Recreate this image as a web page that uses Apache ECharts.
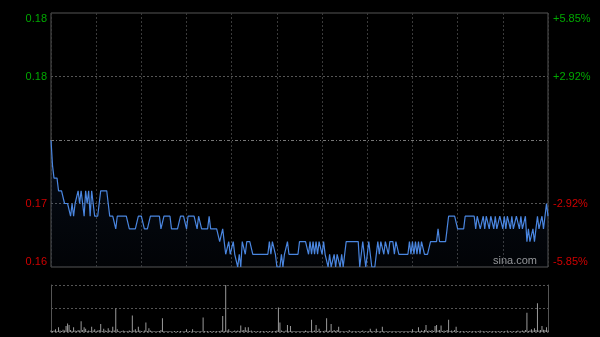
<!DOCTYPE html>
<html><head><meta charset="utf-8">
<script src="https://cdn.jsdelivr.net/npm/echarts@6/dist/echarts.min.js"></script>
<style>html,body{margin:0;padding:0;background:#000}#c{width:600px;height:337px}</style>
</head><body><div id="c"></div>
<script>
const prevClose = 0.171;
const priceTicks = [0.161, 0.166, 0.171, 0.176, 0.181];
const leftLabels = ['0.16', '0.17', '', '0.18', '0.18'];
const rightLabels = ['-5.85%', '-2.92%', '', '+2.92%', '+5.85%'];

const prices = [
.171,.169,.168,.168,.168,.167,.167,.167,.167,.166,
.166,.166,.166,.165,.166,.165,.166,.166,.167,.166,
.167,.166,.165,.167,.166,.167,.165,.167,.166,.165,
.165,.165,.166,.167,.167,.167,.167,.167,.166,.165,
.165,.165,.165,.164,.165,.165,.165,.165,.165,.165,
.165,.165,.164,.164,.164,.164,.164,.164,.165,.165,
.165,.165,.164,.164,.164,.164,.165,.165,.165,.165,
.165,.165,.165,.164,.164,.165,.165,.165,.165,.165,
.164,.164,.164,.164,.164,.164,.165,.165,.165,.165,
.164,.165,.165,.165,.165,.165,.165,.164,.165,.165,
.164,.164,.164,.164,.164,.165,.164,.164,.164,.164,
.164,.164,.163,.163,.164,.163,.162,.162,.163,.162,
.162,.163,.162,.162,.161,.162,.161,.163,.163,.162,
.163,.163,.163,.163,.162,.162,.162,.162,.162,.162,
.162,.162,.162,.162,.162,.163,.162,.163,.163,.162,
.161,.161,.161,.162,.161,.162,.162,.163,.162,.162,
.162,.162,.162,.162,.162,.163,.163,.163,.163,.163,
.163,.162,.163,.162,.163,.162,.163,.162,.163,.163,
.162,.163,.162,.162,.161,.162,.161,.161,.162,.161,
.162,.162,.161,.162,.161,.162,.163,.163,.163,.163,
.163,.163,.163,.163,.163,.161,.162,.163,.163,.161,
.162,.163,.162,.161,.161,.161,.162,.163,.162,.163,
.163,.162,.163,.163,.162,.163,.163,.163,.162,.163,
.163,.162,.162,.162,.162,.162,.162,.162,.163,.162,
.163,.162,.163,.162,.163,.162,.163,.163,.162,.162,
.162,.162,.163,.163,.163,.163,.163,.164,.163,.163,
.163,.163,.163,.164,.165,.165,.165,.165,.165,.165,
.164,.164,.164,.164,.164,.165,.165,.165,.165,.165,
.165,.165,.164,.165,.165,.164,.164,.165,.164,.165,
.165,.164,.165,.165,.164,.165,.164,.164,.165,.165,
.164,.165,.164,.165,.165,.164,.165,.164,.164,.165,
.165,.164,.165,.164,.164,.165,.163,.164,.163,.163,
.164,.163,.164,.165,.164,.164,.165,.164,.165,.166,
.165
];

const volumes = [
3,2,3,6,2,10,3,2,5,3,
13,18,15,4,2,10,3,2,4,3,
23,4,10,7,2,3,2,11,3,6,
2,3,4,17,2,7,3,2,8,3,
2,11,3,50,6,2,1,2,3,2,
1,2,3,2,35,3,6,2,11,3,
2,1,3,20,2,8,3,2,1,2,
1,2,2,4,29,2,1,2,1,2,
1,1,2,1,2,1,2,1,1,2,
6,1,2,1,6,2,1,2,1,2,
1,31,2,1,2,1,2,1,2,1,
2,1,2,3,34,2,100,3,6,2,
1,2,3,2,3,2,14,3,4,10,
3,10,2,3,1,2,1,2,1,2,
1,2,1,2,1,2,1,2,1,2,
3,52,20,3,2,1,3,15,2,13,
2,1,2,1,2,1,2,1,2,3,
2,1,2,26,2,3,15,2,7,2,
1,2,3,29,2,3,17,2,4,2,
4,11,2,1,2,1,2,1,4,1,
2,1,2,1,2,1,2,3,1,2,
1,2,7,2,1,2,7,2,1,2,
11,2,1,2,1,2,1,2,1,2,
1,2,1,2,1,2,1,2,1,2,
6,2,1,2,10,2,3,2,4,15,
2,3,2,4,2,13,15,3,4,14,
2,3,2,4,26,2,3,2,4,11,
2,1,2,1,2,1,2,1,2,1,
2,1,2,1,2,3,1,2,1,2,
1,2,1,2,1,2,1,2,1,2,
1,2,1,3,1,2,1,2,1,2,
3,1,2,3,2,4,41,2,3,6,
3,8,4,61,3,4,13,5,4,10,
3
];

// trading minutes (HK session): 09:30-12:00, 13:01-16:00
const times = [];
function pad(n){return (n<10?'0':'')+n;}
for (let m = 9*60+30; m <= 12*60; m++) times.push(pad(Math.floor(m/60))+':'+pad(m%60));
for (let m = 13*60+1; m <= 16*60; m++) times.push(pad(Math.floor(m/60))+':'+pad(m%60));

const GREEN = '#00a800', RED = '#d00000';
const font = 'Liberation Sans, Arial, sans-serif';
function labelColor(v){ return v > prevClose + 1e-9 ? GREEN : RED; }

const chart = echarts.init(document.getElementById('c'));
chart.setOption({
  backgroundColor: '#000',
  animation: false,
  grid: [
    {left: 51, right: 52, top: 13, height: 254, show: true, borderColor: '#555', borderWidth: 1, backgroundColor: 'transparent'},
    {left: 51, right: 52, top: 285, height: 47}
  ],
  xAxis: [
    {type: 'category', gridIndex: 0, data: times, boundaryGap: false,
     axisLine: {show: false}, axisTick: {show: false}, axisLabel: {show: false},
     splitLine: {show: true, interval: 29, lineStyle: {color: '#3a3a3a', type: [2, 2], width: 1}}},
    {type: 'category', gridIndex: 1, data: times, boundaryGap: false,
     axisLine: {show: false}, axisTick: {show: false}, axisLabel: {show: false}, splitLine: {show: false}}
  ],
  yAxis: [
    {type: 'value', gridIndex: 0, position: 'left', min: priceTicks[0], max: priceTicks[4], interval: 0.005,
     axisLine: {show: false}, axisTick: {show: false},
     axisLabel: {show: true, margin: 4, fontSize: 11, fontFamily: font,
       formatter: (v, i) => leftLabels[i], color: (v) => labelColor(v),
       verticalAlignMaxLabel: 'top', verticalAlignMinLabel: 'bottom'},
     splitLine: {show: true, lineStyle: {color: ['rgba(0,0,0,0)', '#555', 'rgba(0,0,0,0)', '#555', 'rgba(0,0,0,0)'], type: [2, 2]}}},
    {type: 'value', gridIndex: 0, position: 'right', min: priceTicks[0], max: priceTicks[4], interval: 0.005,
     axisLine: {show: false}, axisTick: {show: false},
     axisLabel: {show: true, margin: 5, fontSize: 11, fontFamily: font,
       formatter: (v, i) => rightLabels[i], color: (v) => labelColor(v),
       verticalAlignMaxLabel: 'top', verticalAlignMinLabel: 'bottom'},
     splitLine: {show: false}},
    {type: 'value', gridIndex: 1, position: 'left', min: 0, max: 100, interval: 50,
     axisLine: {show: true, lineStyle: {color: '#555'}}, axisTick: {show: false}, axisLabel: {show: false},
     splitLine: {show: true, lineStyle: {color: '#555', type: [2, 2]}}},
    {type: 'value', gridIndex: 1, position: 'right', min: 0, max: 100, interval: 50,
     axisLine: {show: true, lineStyle: {color: '#555'}}, axisTick: {show: false}, axisLabel: {show: false},
     splitLine: {show: false}}
  ],
  graphic: [
    {type: 'text', right: 63, top: 255, style: {text: 'sina.com', fill: '#9a9a9a', font: '11px ' + font}}
  ],
  series: [
    {type: 'line', xAxisIndex: 0, yAxisIndex: 0, data: prices, symbol: 'none', smooth: false,
     lineStyle: {color: '#4a86e0', width: 1.2},
     areaStyle: {origin: 'start', color: new echarts.graphic.LinearGradient(0, 0, 0, 1, [
       {offset: 0, color: 'rgba(40,80,150,0.22)'}, {offset: 1, color: 'rgba(40,80,150,0.06)'}])},
     markLine: {silent: true, symbol: 'none', precision: 3, label: {show: false},
       lineStyle: {color: '#777', type: [3, 2, 1, 2], width: 1},
       data: [{yAxis: prevClose}]}},
    {type: 'bar', xAxisIndex: 1, yAxisIndex: 2, data: volumes, barWidth: 1,
     itemStyle: {color: '#9a9a9a'}}
  ]
});
</script>
</body></html>
